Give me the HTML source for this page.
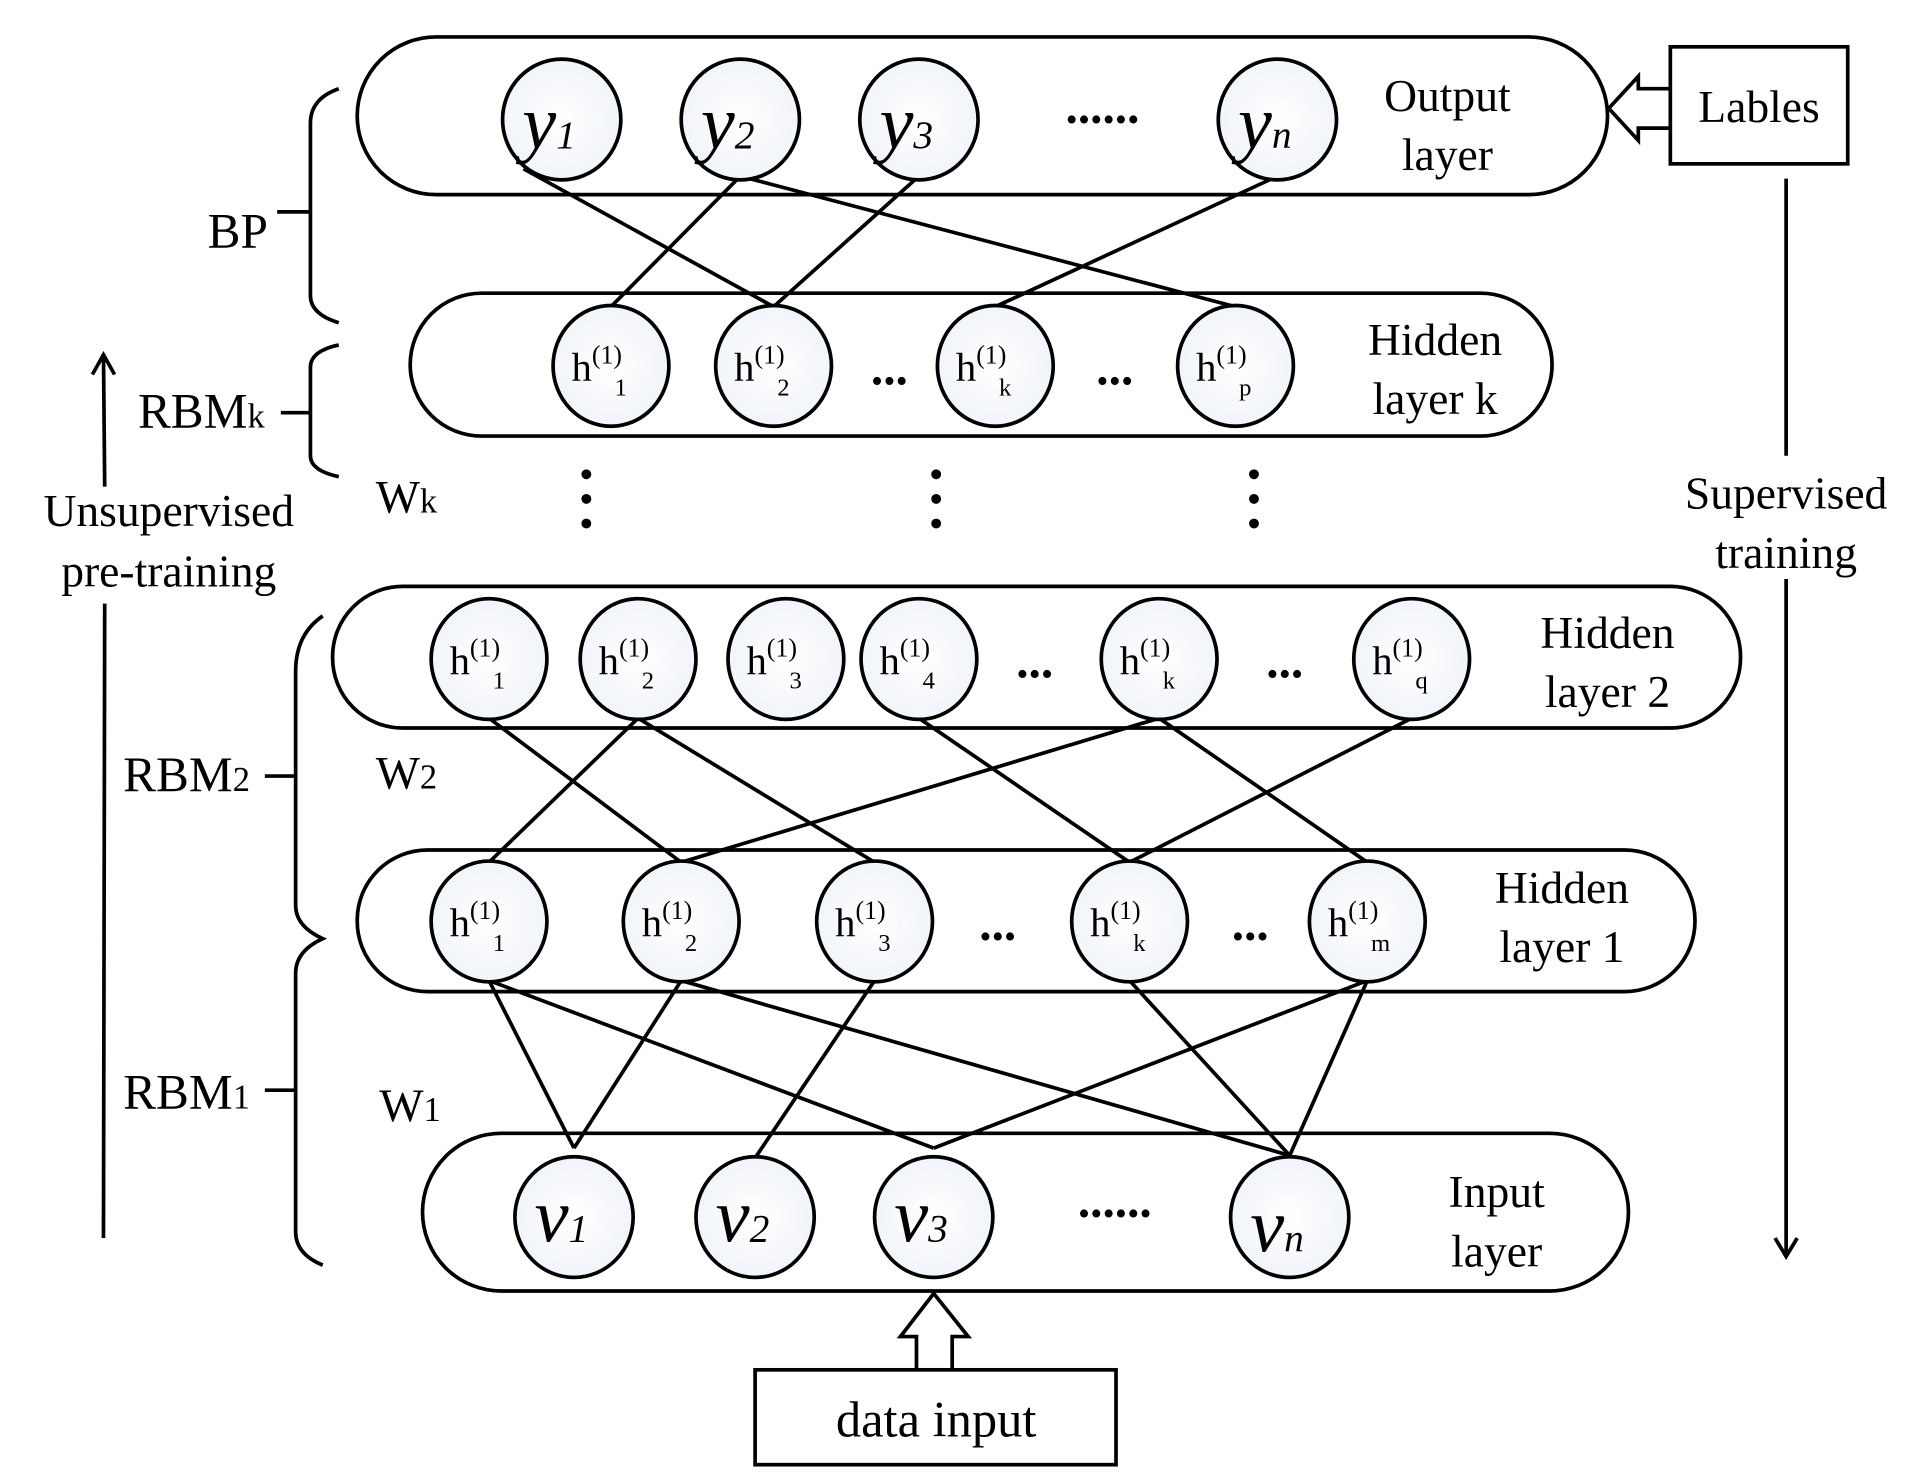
<!DOCTYPE html>
<html><head><meta charset="utf-8"><style>html,body{margin:0;padding:0;background:#fff}svg{display:block}</style></head><body>
<svg width="1913" height="1477" viewBox="0 0 1553 1199" preserveAspectRatio="none" xmlns="http://www.w3.org/2000/svg" font-family="'Liberation Serif', serif">
<defs>
<radialGradient id="g" cx="0.5" cy="0.5" r="0.6"><stop offset="0" stop-color="#ffffff"/><stop offset="1" stop-color="#eef2f8"/></radialGradient>
</defs>
<g fill="none" stroke="#000" stroke-width="3">
<rect x="290" y="30" width="1015" height="128" rx="64"/>
<rect x="333" y="238" width="927" height="116" rx="58"/>
<rect x="270" y="476" width="1143" height="115" rx="57"/>
<rect x="290" y="690" width="1086" height="115" rx="57"/>
<rect x="343" y="920" width="979" height="128" rx="64"/>
<rect x="1356" y="38" width="144" height="95"/>
<rect x="613" y="1112" width="293" height="77"/>
<line x1="425" y1="137" x2="628" y2="249"/>
<line x1="601" y1="143" x2="496" y2="249"/>
<line x1="601" y1="143" x2="1003" y2="249"/>
<line x1="746" y1="143" x2="628" y2="249"/>
<line x1="1037" y1="143" x2="808" y2="249"/>
<line x1="397" y1="583" x2="553" y2="700"/>
<line x1="518" y1="583" x2="397" y2="700"/>
<line x1="518" y1="583" x2="710" y2="700"/>
<line x1="746" y1="583" x2="917" y2="700"/>
<line x1="941" y1="583" x2="553" y2="700"/>
<line x1="941" y1="583" x2="1110" y2="700"/>
<line x1="1146" y1="583" x2="917" y2="700"/>
<line x1="397" y1="796" x2="466" y2="932"/>
<line x1="397" y1="796" x2="758" y2="932"/>
<line x1="553" y1="796" x2="466" y2="932"/>
<line x1="553" y1="796" x2="1047" y2="938"/>
<line x1="710" y1="796" x2="613" y2="940"/>
<line x1="917" y1="796" x2="1047" y2="938"/>
<line x1="1110" y1="796" x2="758" y2="932"/>
<line x1="1110" y1="796" x2="1047" y2="938"/>
<path d="M1356 72 L1330 72 L1330 62 L1306 88 L1330 114 L1330 104 L1356 104" />
<path d="M744 1112 L744 1085 L731 1085 L758 1050 L786 1085 L773 1085 L773 1112"/>
<path d="M275 72 Q252 80 252 100 L252 240 Q252 255 275 262 M252 172 L225 172"/>
<path d="M275 280 Q252 285 252 298 L252 370 Q252 382 275 387 M252 335 L228 335"/>
<path d="M262 500 Q240 515 240 545 L240 735 Q240 752 262 762 Q240 772 240 790 L240 1000 Q240 1018 262 1027 M240 630 L215 630 M240 885 L215 885"/>
<line x1="85" y1="395" x2="84" y2="288"/>
<path d="M75 304 L84 288 L93 304"/>
<line x1="85" y1="490" x2="84" y2="1005"/>
<line x1="1450" y1="145" x2="1450" y2="370"/>
<line x1="1450" y1="470" x2="1450" y2="1018"/>
<path d="M1441 1005 L1450 1020 L1459 1005"/>
</g>
<g fill="url(#g)" stroke="#000" stroke-width="3">
<ellipse cx="456" cy="97" rx="48" ry="49"/><ellipse cx="601" cy="97" rx="48" ry="49"/><ellipse cx="746" cy="97" rx="48" ry="49"/><ellipse cx="1037" cy="97" rx="48" ry="49"/>
<ellipse cx="496" cy="297" rx="47" ry="49"/><ellipse cx="628" cy="297" rx="47" ry="49"/><ellipse cx="808" cy="297" rx="47" ry="49"/><ellipse cx="1003" cy="297" rx="47" ry="49"/>
<ellipse cx="397" cy="535" rx="47" ry="49"/><ellipse cx="518" cy="535" rx="47" ry="49"/><ellipse cx="638" cy="535" rx="47" ry="49"/><ellipse cx="746" cy="535" rx="47" ry="49"/><ellipse cx="941" cy="535" rx="47" ry="49"/><ellipse cx="1146" cy="535" rx="47" ry="49"/>
<ellipse cx="397" cy="748" rx="47" ry="49"/><ellipse cx="553" cy="748" rx="47" ry="49"/><ellipse cx="710" cy="748" rx="47" ry="49"/><ellipse cx="917" cy="748" rx="47" ry="49"/><ellipse cx="1110" cy="748" rx="47" ry="49"/>
<ellipse cx="466" cy="988" rx="48" ry="49"/><ellipse cx="613" cy="988" rx="48" ry="49"/><ellipse cx="758" cy="988" rx="48" ry="49"/><ellipse cx="1047" cy="988" rx="48" ry="49"/>
</g>
<g fill="#000">
<circle cx="476" cy="385" r="4"/><circle cx="476" cy="405" r="4"/><circle cx="476" cy="425" r="4"/>
<circle cx="760" cy="385" r="4"/><circle cx="760" cy="405" r="4"/><circle cx="760" cy="425" r="4"/>
<circle cx="1018" cy="385" r="4"/><circle cx="1018" cy="405" r="4"/><circle cx="1018" cy="425" r="4"/>
</g>
<g fill="#000" font-size="37" text-anchor="middle">
<text x="1175" y="90">Output</text><text x="1175" y="138">layer</text>
<text x="1428" y="99">Lables</text>
<text x="1165" y="288">Hidden</text><text x="1165" y="336">layer k</text>
<text x="1305" y="526">Hidden</text><text x="1305" y="574">layer 2</text>
<text x="1268" y="733">Hidden</text><text x="1268" y="781">layer 1</text>
<text x="1215" y="980">Input</text><text x="1215" y="1028">layer</text>
<text x="760" y="1166" font-size="41">data input</text>
<text x="1450" y="413">Supervised</text><text x="1450" y="461">training</text>
<text x="137" y="427">Unsupervised</text><text x="137" y="476">pre-training</text>
<text x="193" y="201" font-size="40">BP</text>
</g>
<g fill="#000" font-size="40">
<text x="112" y="347">RBM<tspan font-size="28">k</tspan></text>
<text x="100" y="642">RBM<tspan font-size="28">2</tspan></text>
<text x="100" y="900">RBM<tspan font-size="28">1</tspan></text>
<text x="305" y="416" font-size="38">W<tspan font-size="28">k</tspan></text>
<text x="305" y="640" font-size="38">W<tspan font-size="28">2</tspan></text>
<text x="308" y="910" font-size="38">W<tspan font-size="28">1</tspan></text>
</g>
<g fill="#000" font-size="40" font-weight="bold" text-anchor="middle">
<text x="895" y="100">......</text><text x="905" y="988">......</text>
<text x="722" y="312">...</text><text x="905" y="312">...</text>
<text x="840" y="550">...</text><text x="1043" y="550">...</text>
<text x="810" y="763">...</text><text x="1015" y="763">...</text>
</g>
<g fill="#000" font-size="62" font-style="italic">
<text x="424" y="120">y<tspan font-size="32">1</tspan></text>
<text x="569" y="120">y<tspan font-size="32">2</tspan></text>
<text x="714" y="120">y<tspan font-size="32">3</tspan></text>
<text x="1005" y="120">y<tspan font-size="32">n</tspan></text>
<text x="434" y="1008">v<tspan font-size="32">1</tspan></text>
<text x="581" y="1008">v<tspan font-size="32">2</tspan></text>
<text x="726" y="1008">v<tspan font-size="32">3</tspan></text>
<text x="1015" y="1016">v<tspan font-size="32">n</tspan></text>
</g>
<g fill="#000" font-size="33">
<text x="464" y="309">h<tspan font-size="21" dy="-14">(1)</tspan><tspan font-size="20" dx="-6" dy="26">1</tspan></text>
<text x="596" y="309">h<tspan font-size="21" dy="-14">(1)</tspan><tspan font-size="20" dx="-6" dy="26">2</tspan></text>
<text x="776" y="309">h<tspan font-size="21" dy="-14">(1)</tspan><tspan font-size="20" dx="-6" dy="26">k</tspan></text>
<text x="971" y="309">h<tspan font-size="21" dy="-14">(1)</tspan><tspan font-size="20" dx="-6" dy="26">p</tspan></text>
<text x="365" y="547">h<tspan font-size="21" dy="-14">(1)</tspan><tspan font-size="20" dx="-6" dy="26">1</tspan></text>
<text x="486" y="547">h<tspan font-size="21" dy="-14">(1)</tspan><tspan font-size="20" dx="-6" dy="26">2</tspan></text>
<text x="606" y="547">h<tspan font-size="21" dy="-14">(1)</tspan><tspan font-size="20" dx="-6" dy="26">3</tspan></text>
<text x="714" y="547">h<tspan font-size="21" dy="-14">(1)</tspan><tspan font-size="20" dx="-6" dy="26">4</tspan></text>
<text x="909" y="547">h<tspan font-size="21" dy="-14">(1)</tspan><tspan font-size="20" dx="-6" dy="26">k</tspan></text>
<text x="1114" y="547">h<tspan font-size="21" dy="-14">(1)</tspan><tspan font-size="20" dx="-6" dy="26">q</tspan></text>
<text x="365" y="760">h<tspan font-size="21" dy="-14">(1)</tspan><tspan font-size="20" dx="-6" dy="26">1</tspan></text>
<text x="521" y="760">h<tspan font-size="21" dy="-14">(1)</tspan><tspan font-size="20" dx="-6" dy="26">2</tspan></text>
<text x="678" y="760">h<tspan font-size="21" dy="-14">(1)</tspan><tspan font-size="20" dx="-6" dy="26">3</tspan></text>
<text x="885" y="760">h<tspan font-size="21" dy="-14">(1)</tspan><tspan font-size="20" dx="-6" dy="26">k</tspan></text>
<text x="1078" y="760">h<tspan font-size="21" dy="-14">(1)</tspan><tspan font-size="20" dx="-6" dy="26">m</tspan></text>
</g>
</svg>
</body></html>
